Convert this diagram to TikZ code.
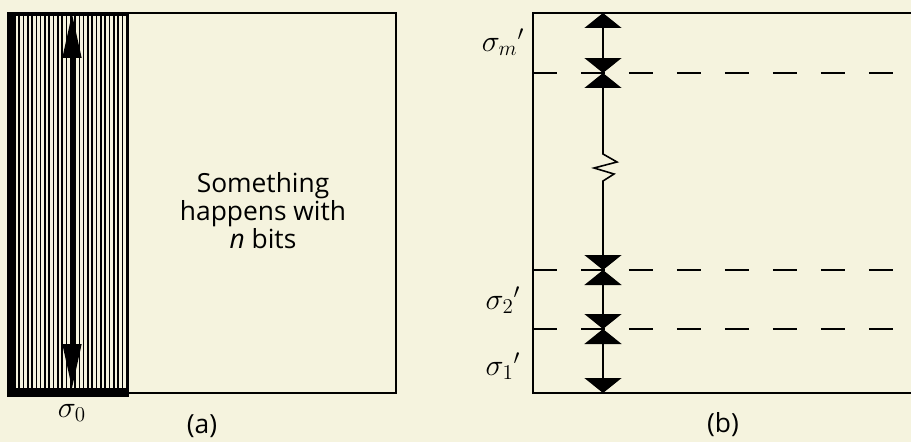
\documentclass[tikz,border=0pt]{standalone}
\usepackage{fontspec}
\setmainfont{Open Sans}
\usetikzlibrary{arrows.meta, positioning}
\definecolor{paper}{RGB}{245,243,222}

\begin{document}
\begin{tikzpicture}[
  x=0.02cm, y=-0.02cm,
  frame/.style={draw=black, line width=1.1pt},
  level/.style={draw=black, line width=1.1pt, dash pattern=on 0.48cm off 0.48cm},
  spanarrow/.style={draw=black, line width=0.9pt, line join=miter,
    {Triangle[width=0.74cm, length=0.3cm]}-{Triangle[width=0.74cm, length=0.3cm]}},
  bigarrow/.style={draw=black, line width=2.6pt,
    {Triangle[width=0.36cm, length=0.9cm]}-{Triangle[width=0.36cm, length=0.9cm]}},
  lbl/.style={font=\fontsize{17.5}{19}\selectfont, inner sep=0pt},
  sublbl/.style={font=\fontsize{15}{17}\selectfont, inner sep=0pt}
]

\path[use as bounding box, fill=paper] (0,0) rectangle (911,442);

% (a) hatched strip and box
\fill[black] (7,12) rectangle (129,397);
\foreach \x in {17,21.3,...,126}
  \draw[paper, line width=1.5pt] (\x,16) -- (\x,388);
\coordinate (a-nw) at (8,13);
\coordinate (a-se) at (396,393);
\draw[frame] (a-nw) rectangle (a-se);

\coordinate (s0-top) at (72,13);
\coordinate (s0-bot) at (72,389);
\draw[bigarrow] (s0-top) -- (s0-bot);

\node[align=center, font=\fontsize{15}{14.8}\selectfont] (happen) at (263,211)
  {Something\\happens with\\\textit{n} bits};

\node[lbl] (sig0) at (72,413) {$\sigma_0$};
\node[sublbl] (capa) at (202,426) {(a)};

% (b) levels
\draw[frame] (911,13) -- (533,13) -- (533,393) -- (911,393);
\foreach \y/\n in {73/m, 270/two, 329/one} {
  \coordinate (lev-\n) at (533,\y);
  \coordinate (end-\n) at (893,\y);
  \draw[level] (lev-\n) -- (end-\n);
}

\coordinate (r-top) at (603,13);
\coordinate (r-m) at (603,73);
\coordinate (r-two) at (603,270);
\coordinate (r-one) at (603,329);
\coordinate (r-bot) at (603,393);
\coordinate (zz-a) at (603,154);
\coordinate (zz-b) at (617,162);
\coordinate (zz-c) at (594,168);
\coordinate (zz-d) at (614,174);
\coordinate (zz-e) at (603,181);

\draw[spanarrow] (r-top) -- (r-m);
\draw[spanarrow] (r-m) -- (zz-a) -- (zz-b) -- (zz-c) -- (zz-d) -- (zz-e) -- (r-two);
\draw[spanarrow] (r-two) -- (r-one);
\draw[spanarrow] (r-one) -- (r-bot);

\node[lbl] (sig-m) at (503,42) {$\sigma_m{}'$};
\node[lbl] (sig-two) at (503,300) {$\sigma_2{}'$};
\node[lbl] (sig-one) at (503,366) {$\sigma_1{}'$};
\node[sublbl] (capb) at (723,425) {(b)};

\end{tikzpicture}
\end{document}
